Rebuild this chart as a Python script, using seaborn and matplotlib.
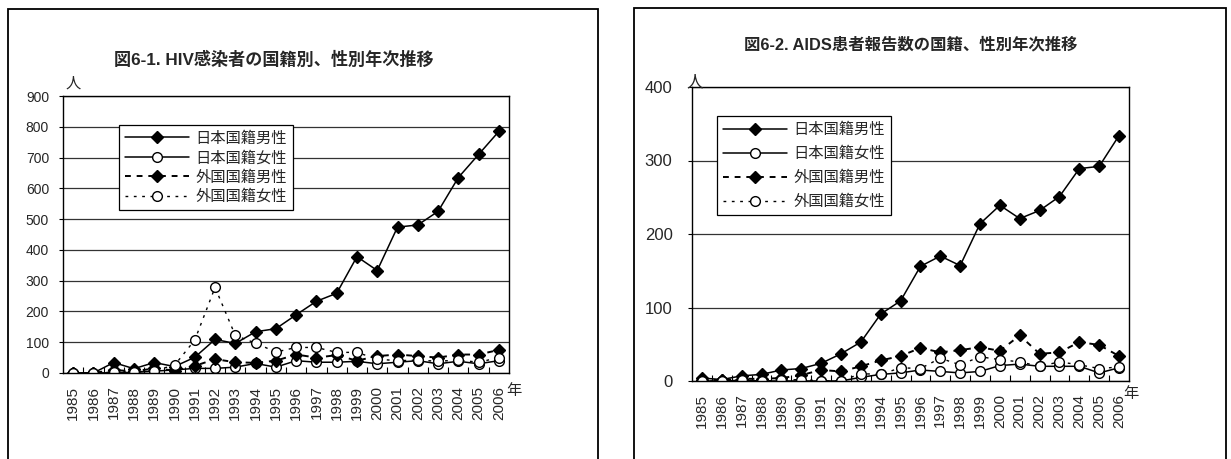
import matplotlib
matplotlib.use("Agg")
import matplotlib.pyplot as plt
from matplotlib.patches import Rectangle
from matplotlib.ticker import FixedLocator, MultipleLocator
import seaborn as sns

sns.set_theme(style="white")
plt.rcParams["font.family"] = ["Liberation Sans", "Noto Sans CJK JP"]

years = list(range(1985, 2007))
year_labels = [str(y) for y in years]
series_names = ["日本国籍男性", "日本国籍女性", "外国国籍男性", "外国国籍女性"]

# HIV infections by nationality and sex
hiv_jp_male = [0, 0, 34, 14, 34, 21, 51, 109, 96, 134, 144, 189, 233, 259, 378, 333, 474, 481, 525, 635, 710, 785]
hiv_jp_female = [0, 0, 1, 2, 6, 10, 15, 15, 19, 31, 19, 40, 35, 35, 38, 30, 35, 40, 30, 38, 30, 40]
hiv_fg_male = [0, 0, 10, 5, 15, 8, 23, 45, 35, 33, 40, 60, 50, 58, 40, 55, 60, 55, 50, 60, 60, 75]
hiv_fg_female = [0, 0, 3, 3, 8, 25, 107, 278, 122, 97, 68, 83, 83, 67, 67, 45, 40, 42, 38, 42, 35, 50]

# AIDS patient reports by nationality and sex
aids_jp_male = [4, 2, 7, 9, 15, 17, 24, 37, 53, 91, 109, 156, 170, 157, 214, 239, 221, 232, 251, 289, 292, 334]
aids_jp_female = [0, 0, 1, 0, 0, 0, 0, 0, 5, 9, 11, 15, 13, 11, 13, 21, 23, 20, 20, 20, 11, 18]
aids_fg_male = [2, 1, 3, 3, 4, 8, 15, 13, 20, 28, 34, 45, 39, 42, 46, 41, 62, 37, 39, 53, 49, 34]
aids_fg_female = [0, 0, 2, 0, 1, 2, 0, 0, 10, 9, 18, 17, 31, 22, 33, 29, 26, 20, 26, 22, 17, 19]

W, H = 1231, 459
fig = plt.figure(figsize=(W / 100, H / 100), dpi=100)
fig.patch.set_facecolor("white")


def px_axes(x0, y0, x1, y1):
    return fig.add_axes([x0 / W, 1 - y1 / H, (x1 - x0) / W, (y1 - y0) / H])


styles = [
    dict(marker="D", markerfacecolor="black", linestyle="-", linewidth=1.1, markersize=6),
    dict(marker="o", markerfacecolor="white", linestyle="-", linewidth=1.1, markersize=7),
    dict(marker="D", markerfacecolor="black", linestyle=(0, (3, 3)), linewidth=1.4, markersize=6),
    dict(marker="o", markerfacecolor="white", linestyle=(0, (2, 4)), linewidth=1.0, markersize=7),
]


def draw_panel(ax, data, ymax, ystep, ylab_size, ypad, legend_anchor, legend_spacing):
    xs = list(range(len(years)))
    for name, vals, st in zip(series_names, data, styles):
        sns.lineplot(x=xs, y=vals, ax=ax, color="black",
                     markeredgecolor="black", markeredgewidth=1.0,
                     label=name, **st)
    ax.set_xlim(-0.5, len(years) - 0.5)
    ax.set_ylim(0, ymax)
    ax.yaxis.set_major_locator(MultipleLocator(ystep))
    ax.grid(axis="y", color="#333333", linewidth=0.9)
    ax.set_axisbelow(True)
    ax.set_xticks(xs)
    ax.set_xticklabels(year_labels, rotation=90, fontsize=11)
    ax.xaxis.set_minor_locator(FixedLocator([i + 0.5 for i in xs[:-1]]))
    ax.tick_params(axis="x", which="major", length=0, pad=9)
    ax.tick_params(axis="x", which="minor", direction="in", length=4,
                   width=0.8, color="black", bottom=True)
    ax.tick_params(axis="y", which="major", direction="out", length=3,
                   width=0.8, color="black", left=True, labelsize=ylab_size, pad=ypad)
    for sp in ax.spines.values():
        sp.set_color("black")
        sp.set_linewidth(1.0)
    ax.set_xlabel("")
    ax.set_ylabel("")
    leg = ax.legend(loc="upper left", bbox_to_anchor=legend_anchor, borderaxespad=0,
                    fontsize=11, handlelength=4.2, labelspacing=legend_spacing,
                    fancybox=False, framealpha=1, edgecolor="black",
                    borderpad=0.4, handletextpad=0.4)
    leg.get_frame().set_linewidth(0.9)


# Left panel: HIV
ax1 = px_axes(63, 96, 509, 373)
draw_panel(ax1, [hiv_jp_male, hiv_jp_female, hiv_fg_male, hiv_fg_female],
           900, 100, 10, 7, (0.125, 0.895), 0.32)
fig.text(274 / W, 1 - 59 / H, "図6-1. HIV感染者の国籍別、性別年次推移",
         ha="center", va="center", fontsize=12.3, fontweight="bold")
fig.text(73 / W, 1 - 84 / H, "人", ha="center", va="center", fontsize=11)
fig.text(514 / W, 1 - 391 / H, "年", ha="center", va="center", fontsize=11)

# Right panel: AIDS
ax2 = px_axes(692, 87, 1129, 381)
draw_panel(ax2, [aids_jp_male, aids_jp_female, aids_fg_male, aids_fg_female],
           400, 100, 12, 11, (0.057, 0.90), 0.62)
fig.text(911 / W, 1 - 45 / H, "図6-2. AIDS患者報告数の国籍、性別年次推移",
         ha="center", va="center", fontsize=11.8, fontweight="bold")
fig.text(695 / W, 1 - 82 / H, "人", ha="center", va="center", fontsize=12)
fig.text(1131 / W, 1 - 394 / H, "年", ha="center", va="center", fontsize=11)

# Outer frames around each chart
for x0, x1, y0 in [(8, 598, 9), (634, 1226, 8)]:
    fig.patches.append(Rectangle((x0 / W, -0.05), (x1 - x0) / W, 1 - y0 / H + 0.05,
                                 transform=fig.transFigure, fill=False,
                                 edgecolor="black", linewidth=1.3, zorder=0))

fig.savefig("out.png", dpi=100, facecolor="white")
